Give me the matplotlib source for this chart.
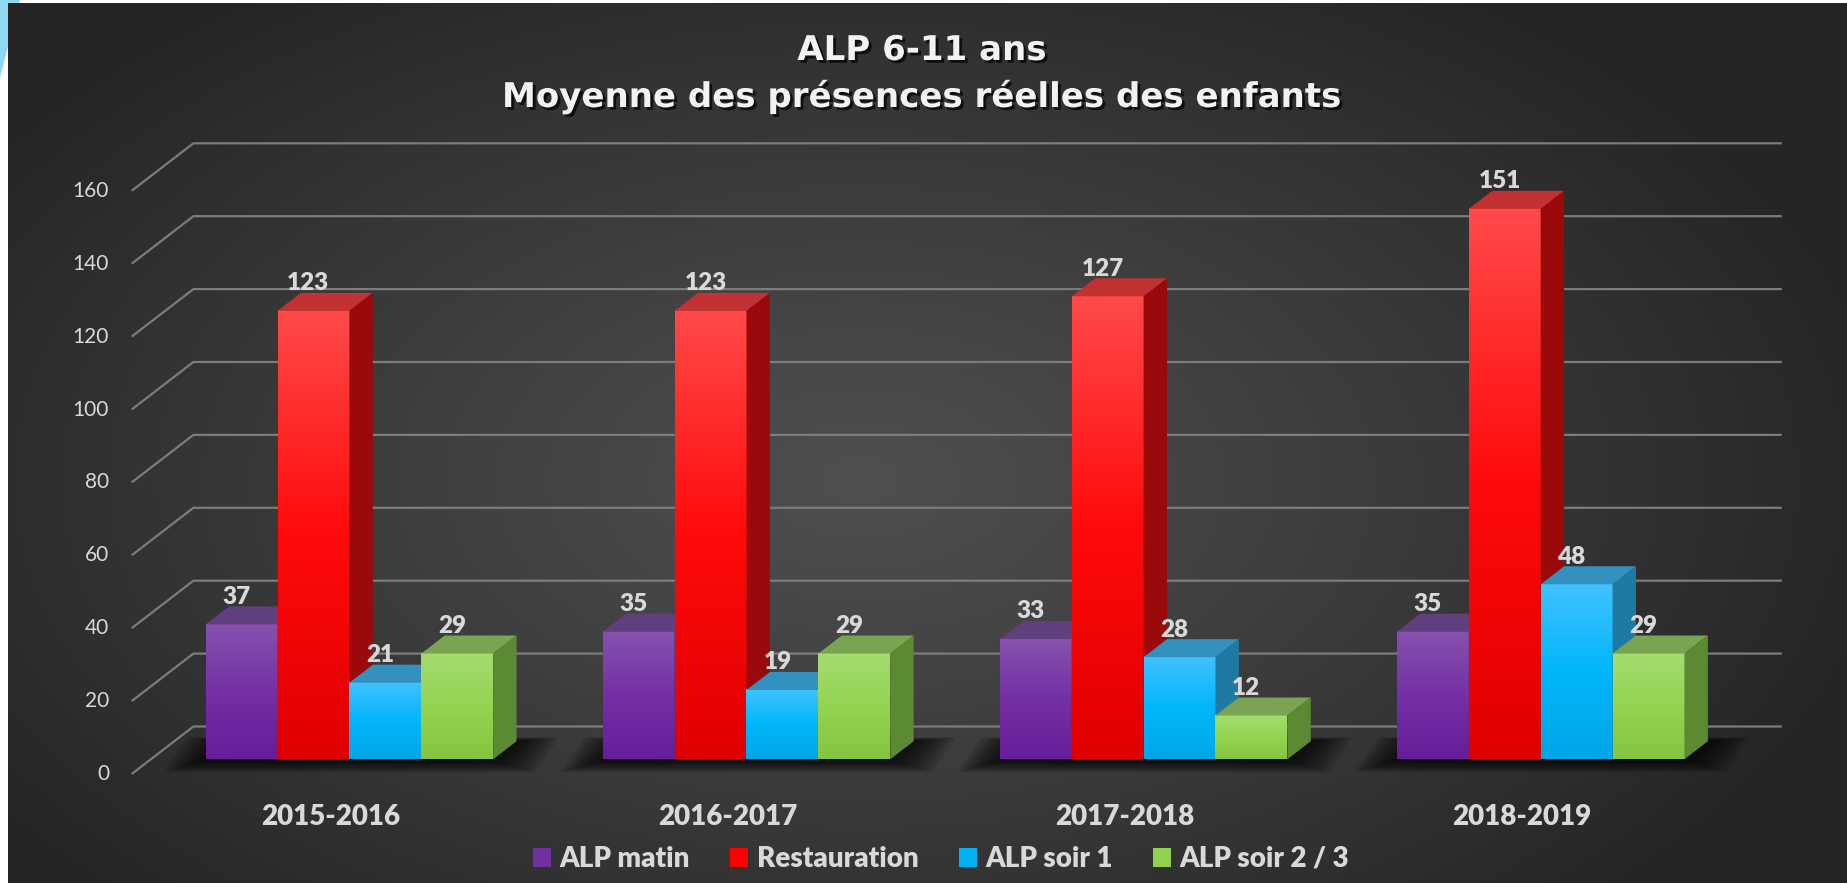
import numpy as np
import matplotlib
matplotlib.use('Agg')
import matplotlib.pyplot as plt
from matplotlib.patches import Polygon, Patch
from matplotlib.colors import to_rgb
import matplotlib.patheffects as pe

# data
years = ['2015-2016', '2016-2017', '2017-2018', '2018-2019']
series_names = ['ALP matin', 'Restauration', 'ALP soir 1', 'ALP soir 2 / 3']
alp_matin = [37, 35, 33, 35]
restauration = [123, 123, 127, 151]
alp_soir_1 = [21, 19, 28, 48]
alp_soir_23 = [29, 29, 12, 29]
y_ticks = [0, 20, 40, 60, 80, 100, 120, 140, 160]
title_1 = 'ALP 6-11 ans'
title_2 = 'Moyenne des présences réelles des enfants'

values = [alp_matin, restauration, alp_soir_1, alp_soir_23]

# colours: legend, front gradient (bottom, mid, top), top face, side face
legend_cols = ['#7030a0', '#ff0000', '#00b0f0', '#92d050']
front_cols = [
    ['#661e98', '#7430a4', '#8652ae'],
    ['#e00000', '#ff0a0a', '#ff4a4a'],
    ['#00a6e6', '#00b6fa', '#42c2ff'],
    ['#84c43e', '#94d452', '#a4dc70'],
]
top_cols = ['#5f3f7e', '#c23232', '#3490be', '#7aa452']
side_cols = ['#4e2a6a', '#9a0a0a', '#1e7aa4', '#5c8a32']

# layout (pixels of the 1847x883 picture)
W, H = 1847, 883
X0, Y0 = 131.7, 774.0          # front-left corner of the floor, value 0
PX_CAT, PX_VAL = 397.1, 3.645  # pixels per category / per unit
DX = 61.7 / PX_CAT             # depth vector in data units
DY = 47.5 / PX_VAL
D0, D1 = 0.31, 0.69            # bar depth span (fraction of floor depth)
MARGIN, BW = 0.138, 0.181


def px(x, y):
    return (x - X0) / PX_CAT, (Y0 - y) / PX_VAL


def proj(c, v, d):
    return c + d * DX, v + d * DY


FONT = 'Lato'
TXT = '#d9d9d9'
LABEL_W = 'heavy'

fig = plt.figure(figsize=(W / 100, H / 100), dpi=100, facecolor='white')
ax = fig.add_axes([0, 0, 1, 1])
ax.set_axis_off()
xmin, ymax = px(0, 0)
xmax, ymin = px(W, H)

# slide decoration + dark background with radial gradient
ax.add_patch(Polygon([px(0, 0), px(20, 0), px(0, 78)], closed=True,
                     facecolor='#8ed8f2', edgecolor='none', zorder=0))
gx, gy = np.meshgrid(np.linspace(8, W, 400), np.linspace(3, H, 200))
t = np.sqrt(((gx - 860) / 1050) ** 2 + ((gy - 480) / 600) ** 2)
t = np.clip(t, 0, 1) ** 1.1
inner, outer = np.array(to_rgb('#4f4f4f')), np.array(to_rgb('#252525'))
bg = inner * (1 - t[..., None]) + outer * t[..., None]
bx0, by0 = px(8, 3)
bx1, by1 = px(W, H)
ax.imshow(bg, extent=(bx0, bx1, by1, by0), aspect='auto', zorder=1,
          interpolation='bicubic', origin='upper')

# gridlines on back wall with diagonal to front
ncat = len(years)
for tk in y_ticks:
    gxs = [0, DX, ncat + DX]
    gys = [tk, tk + DY, tk + DY]
    ax.plot(gxs, gys, color='#7c7c7c', lw=1.6, zorder=2, solid_capstyle='butt')
    lx, _ = px(109, 0)
    ax.text(lx, tk, str(tk), ha='right', va='center', color=TXT,
            fontsize=15, family=FONT, zorder=20)


def to_data_len(dxp, dyp):
    return dxp / PX_CAT, dyp / PX_VAL


# shadows under each group
for i in range(ncat):
    gl = i + MARGIN
    gr = gl + BW * len(values)
    for k in range(12):
        ex, ey = to_data_len(3.5 * k + 4, 1.0 * k + 2)
        a, _ = proj(gl, 0, D0)
        b, yb = proj(gr, 0, D0)
        c2, yc = proj(gr, 0, D1)
        d2, _ = proj(gl, 0, D1)
        poly = [(a - ex, yb - ey), (b + ex, yb - ey), (c2 + ex, yc + ey * 0.3),
                (d2 - ex, yc + ey * 0.3)]
        ax.add_patch(Polygon(poly, closed=True, facecolor='black',
                             edgecolor='none', alpha=0.09, zorder=3))

# bars
dd = D1 - D0
z = 5
for i in range(ncat):
    for j, vals in enumerate(values):
        v = vals[i]
        fx, fy = proj(i + MARGIN + j * BW, 0, D0)
        c0, c1, c2 = [np.array(to_rgb(c)) for c in front_cols[j]]
        s = np.linspace(0, 1, 128)[:, None]
        grad = np.where(s < 0.5, c0 * (1 - s / 0.5) + c1 * (s / 0.5),
                        c1 * (1 - (s - 0.5) / 0.5) + c2 * ((s - 0.5) / 0.5))
        grad = grad[:, None, :]
        ax.imshow(grad, extent=(fx, fx + BW, fy, fy + v), aspect='auto',
                  origin='lower', interpolation='bilinear', zorder=z)
        top = [(fx, fy + v), (fx + BW, fy + v),
               (fx + BW + dd * DX, fy + v + dd * DY), (fx + dd * DX, fy + v + dd * DY)]
        side = [(fx + BW, fy), (fx + BW + dd * DX, fy + dd * DY),
                (fx + BW + dd * DX, fy + v + dd * DY), (fx + BW, fy + v)]
        ax.add_patch(Polygon(top, closed=True, facecolor=top_cols[j],
                             edgecolor='none', zorder=z + 0.1))
        ax.add_patch(Polygon(side, closed=True, facecolor=side_cols[j],
                             edgecolor='none', zorder=z + 0.1))
        # value label
        lx = fx + BW / 2 - 5 / PX_CAT
        ly = fy + v + dd * DY + 2.5 / PX_VAL
        ax.text(lx, ly, str(v), ha='center', va='baseline', color=TXT,
                fontsize=17.5, fontweight=LABEL_W, family=FONT, zorder=30)
        z += 1
    # category label
    _, cy = px(0, 825)
    ax.text(i + 0.5, cy, years[i], ha='center', va='baseline', color=TXT,
            fontsize=20, fontweight=LABEL_W, family=FONT, zorder=30)

# title
shadow = [pe.SimplePatchShadow(offset=(2, -2), shadow_rgbFace='black', alpha=0.7),
          pe.Normal()]
tx, t1y = px(922, 60)
_, t2y = px(922, 107)
ax.text(tx, t1y, title_1, ha='center', va='baseline', color='#f2f2f2',
        fontsize=24.5, fontweight='bold', family='DejaVu Sans', zorder=30,
        path_effects=shadow)
ax.text(tx, t2y, title_2, ha='center', va='baseline', color='#f2f2f2',
        fontsize=24.5, fontweight='bold', family='DejaVu Sans', zorder=30,
        path_effects=shadow)

# legend
handles = [Patch(facecolor=c, edgecolor='none', label=n)
           for c, n in zip(legend_cols, series_names)]
fig.legend(handles=handles, loc='center', bbox_to_anchor=(941 / W, 1 - 859 / H),
           ncol=4, frameon=False, labelcolor=TXT,
           prop={'family': FONT, 'weight': LABEL_W, 'size': 20},
           handlelength=0.65, handleheight=0.65, handletextpad=0.3,
           columnspacing=1.45, borderpad=0.2)

ax.set_xlim(xmin, xmax)
ax.set_ylim(ymin, ymax)
ax.set_aspect('auto')

fig.savefig('out.png', dpi=100, facecolor='white')
